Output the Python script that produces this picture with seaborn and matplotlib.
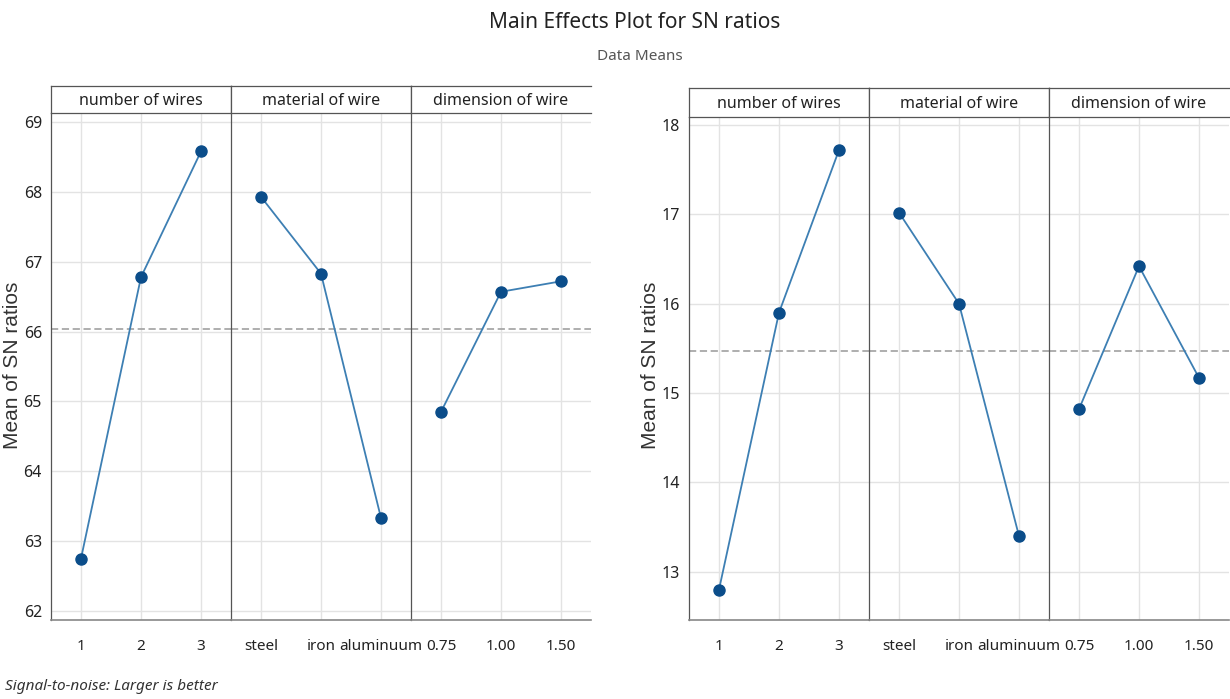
import numpy as np
import pandas as pd
import matplotlib
matplotlib.use("Agg")
import matplotlib.pyplot as plt
import seaborn as sns

# factor levels
factors = ["number of wires", "material of wire", "dimension of wire"]
levels_wires = ["1", "2", "3"]
levels_material = ["steel", "iron", "aluminuum"]
levels_dimension = ["0.75", "1.00", "1.50"]

# mean SN ratios (left plot)
left_wires = [62.75, 66.78, 68.58]
left_material = [67.93, 66.83, 63.33]
left_dimension = [64.85, 66.57, 66.72]
left_yticks = [62, 63, 64, 65, 66, 67, 68, 69]

# mean SN ratios (right plot)
right_wires = [12.80, 15.90, 17.72]
right_material = [17.02, 16.00, 13.40]
right_dimension = [14.82, 16.42, 15.17]
right_yticks = [13, 14, 15, 16, 17, 18]

sns.set_style("whitegrid")
plt.rcParams["font.family"] = ["Noto Sans", "DejaVu Sans"]

W, H = 1230, 699
fig = plt.figure(figsize=(W / 100, H / 100), dpi=100)

line_col = "#3d7fb3"
dot_col = "#0b4d8a"
grid_col = "#e3e3e3"
frame_col = "#555555"


def px(x0, y0, x1, y1):
    return [x0 / W, 1 - y1 / H, (x1 - x0) / W, (y1 - y0) / H]


def draw_panel(values, yticks, ylim, x0, head_top, head_bot, bottom, label_x):
    levels = [levels_wires, levels_material, levels_dimension]
    allvals = np.concatenate(values)
    grand = allvals.mean()
    fw = 180
    for i, (name, lv, vals) in enumerate(zip(factors, levels, values)):
        xa = x0 + i * fw
        ax = fig.add_axes(px(xa, head_bot, xa + fw, bottom))
        df = pd.DataFrame({"level": lv, "sn": vals})
        sns.pointplot(data=df, x="level", y="sn", order=lv, color=line_col,
                      markers="o", markersize=8, linewidth=1.3, errorbar=None, ax=ax)
        for ln in ax.lines:
            ln.set_markerfacecolor(dot_col)
            ln.set_markeredgecolor(dot_col)
        ax.axhline(grand, color="#a8a8a8", lw=1.3, ls=(0, (4, 2)), zorder=1)
        ax.set_ylim(*ylim)
        ax.set_xlim(-0.5, 2.5)
        ax.set_yticks(yticks)
        ax.grid(True, axis="both", color=grid_col, lw=1)
        ax.set_xlabel("")
        ax.set_ylabel("")
        for s in ["top", "right"]:
            ax.spines[s].set_visible(False)
        ax.spines["left"].set_color(frame_col)
        ax.spines["left"].set_linewidth(0.9)
        ax.spines["bottom"].set_color("#888888")
        ax.spines["bottom"].set_linewidth(1.2)
        ax.tick_params(axis="x", length=4, color="#bbbbbb", labelsize=11, pad=10, labelcolor="#222222")
        if i == 0:
            ax.tick_params(axis="y", length=3, color="#bbbbbb", labelsize=11.5, labelcolor="#222222")
        else:
            ax.tick_params(axis="y", length=0, labelleft=False)
        # header strip
        hx = fig.add_axes(px(xa, head_top, xa + fw, head_bot))
        hx.set_xticks([])
        hx.set_yticks([])
        hx.set_facecolor("white")
        for s in hx.spines.values():
            s.set_color(frame_col)
            s.set_linewidth(0.9)
        if i == 2:
            hx.spines["right"].set_visible(False)
        hx.text(0.5, 0.45, name, ha="center", va="center", fontsize=11.5, color="#222222")
    fig.text(label_x / W, 1 - 365 / H, "Mean of SN ratios", rotation=90, ha="center", va="center",
             fontsize=15, color="#333333", family=["Liberation Sans", "DejaVu Sans"])


draw_panel([left_wires, left_material, left_dimension], left_yticks, (61.87, 69.13),
           51, 86, 113, 620, 13)
draw_panel([right_wires, right_material, right_dimension], right_yticks, (12.46, 18.09),
           689, 88, 117, 620, 651)

fig.text(635 / W, 1 - 22 / H, "Main Effects Plot for SN ratios", ha="center", va="center",
         fontsize=15, color="#222222")
fig.text(640 / W, 1 - 57 / H, "Data Means", ha="center", va="center",
         fontsize=11, color="#555555")
fig.text(5 / W, 1 - 686 / H, "Signal-to-noise: Larger is better", ha="left", va="center",
         fontsize=11, style="italic", color="#333333")

fig.savefig("out.png", dpi=100)
